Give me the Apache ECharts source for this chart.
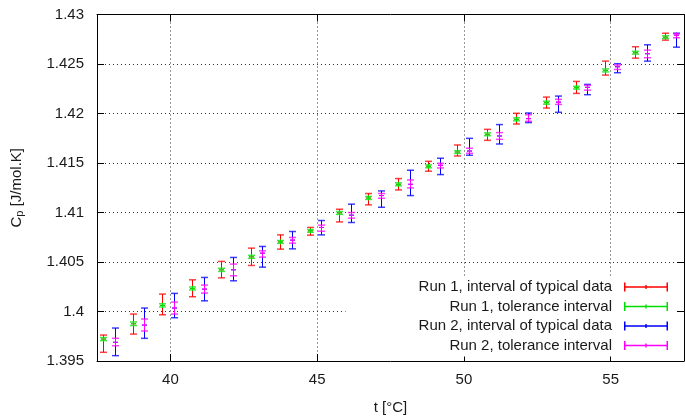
<!DOCTYPE html>
<html>
<head>
<meta charset="utf-8">
<script src="https://cdn.jsdelivr.net/npm/echarts@6/dist/echarts.min.js"></script>
<style>html,body{margin:0;padding:0;background:#fff;}#c{width:685px;height:420px;}</style>
</head>
<body>
<div id="c"></div>
<script>
// ---- data ----
var xTicks = [40, 45, 50, 55];
var seriesNames = ['Run 1, interval of typical data', 'Run 1, tolerance interval', 'Run 2, interval of typical data', 'Run 2, tolerance interval'];

var run1T = [37.70, 38.71, 39.72, 40.73, 41.72, 42.73, 43.73, 44.76, 45.76, 46.75, 47.76, 48.77, 49.78, 50.79, 51.79, 52.81, 53.81, 54.80, 55.83, 56.84];
var run1Y = [1.39722, 1.39876, 1.40062, 1.40233, 1.40421, 1.40552, 1.40703, 1.40814, 1.40996, 1.41147, 1.41285, 1.41467, 1.41611, 1.41790, 1.41941, 1.42109, 1.42261, 1.42435, 1.42614, 1.42771];
var run1TypHigh = [1.39762, 1.39974, 1.40176, 1.40320, 1.40506, 1.40640, 1.40774, 1.40849, 1.41033, 1.41192, 1.41343, 1.41517, 1.41682, 1.41840, 1.42002, 1.42166, 1.42324, 1.42529, 1.42674, 1.42811];
var run1TypLow = [1.39588, 1.39772, 1.39967, 1.40149, 1.40340, 1.40465, 1.40630, 1.40771, 1.40905, 1.41077, 1.41228, 1.41417, 1.41571, 1.41729, 1.41894, 1.42055, 1.42203, 1.42388, 1.42559, 1.42741];
var run1TolHigh = [1.39737, 1.39894, 1.40078, 1.40248, 1.40437, 1.40567, 1.40717, 1.40827, 1.41010, 1.41162, 1.41300, 1.41481, 1.41625, 1.41804, 1.41956, 1.42124, 1.42275, 1.42450, 1.42628, 1.42785];
var run1TolLow = [1.39706, 1.39858, 1.40046, 1.40218, 1.40405, 1.40537, 1.40688, 1.40800, 1.40981, 1.41132, 1.41270, 1.41452, 1.41597, 1.41776, 1.41926, 1.42094, 1.42247, 1.42420, 1.42600, 1.42757];

var run2T = [38.10, 39.11, 40.12, 41.13, 42.12, 43.13, 44.14, 45.14, 46.14, 47.18, 48.18, 49.19, 50.19, 51.21, 52.20, 53.21, 54.21, 55.23, 56.23, 57.24];
var run2Y = [1.39689, 1.39863, 1.40035, 1.40226, 1.40421, 1.40589, 1.40721, 1.40849, 1.40973, 1.41171, 1.41285, 1.41477, 1.41621, 1.41773, 1.41948, 1.42115, 1.42264, 1.42472, 1.42604, 1.42791];
var run2TypHigh = [1.39833, 1.40035, 1.40183, 1.40344, 1.40546, 1.40657, 1.40808, 1.40919, 1.41084, 1.41218, 1.41427, 1.41548, 1.41749, 1.41888, 1.42005, 1.42176, 1.42294, 1.42503, 1.42694, 1.42811];
var run2TypLow = [1.39554, 1.39729, 1.39937, 1.40108, 1.40310, 1.40448, 1.40633, 1.40774, 1.40899, 1.41053, 1.41171, 1.41383, 1.41578, 1.41692, 1.41908, 1.42012, 1.42190, 1.42412, 1.42529, 1.42670];
var run2TolHigh = [1.39729, 1.39924, 1.40095, 1.40267, 1.40479, 1.40613, 1.40748, 1.40872, 1.41000, 1.41192, 1.41329, 1.41497, 1.41649, 1.41807, 1.41988, 1.42143, 1.42284, 1.42489, 1.42640, 1.42805];
var run2TolLow = [1.39654, 1.39803, 1.39974, 1.40186, 1.40361, 1.40549, 1.40690, 1.40811, 1.40943, 1.41144, 1.41248, 1.41450, 1.41598, 1.41739, 1.41921, 1.42092, 1.42236, 1.42445, 1.42563, 1.42765];

// ---- build chart ----
function rows(t, y, lo, hi) {
  return t.map(function (v, i) { return [v, lo[i], hi[i], y[i]]; });
}
function renderErr(params, api) {
  var x = api.value(0), lo = api.value(1), hi = api.value(2), c = api.value(3);
  var pLo = api.coord([x, lo]), pHi = api.coord([x, hi]), pC = api.coord([x, c]);
  var px = Math.round(pLo[0]) + 0.5;
  var w = 3.5, m = 2.5;
  var col = api.visual('color');
  var st = { stroke: col, lineWidth: 1, fill: null };
  var capSt = { stroke: col, lineWidth: 1.5, fill: null, opacity: 0.75 };
  return {
    type: 'group',
    children: [
      { type: 'line', shape: { x1: px, y1: pLo[1], x2: px, y2: pHi[1] }, style: st },
      { type: 'line', shape: { x1: px - w, y1: pLo[1], x2: px + w, y2: pLo[1] }, style: capSt },
      { type: 'line', shape: { x1: px - w, y1: pHi[1], x2: px + w, y2: pHi[1] }, style: capSt },
      { type: 'line', shape: { x1: px - m, y1: pC[1], x2: px + m, y2: pC[1] }, style: st },
      { type: 'line', shape: { x1: px, y1: pC[1] - m, x2: px, y2: pC[1] + m }, style: st }
    ]
  };
}
var colors = ['#ff0000', '#00e000', '#0000ff', '#ff00ff'];
var datasets = [
  rows(run1T, run1Y, run1TypLow, run1TypHigh),
  rows(run1T, run1Y, run1TolLow, run1TolHigh),
  rows(run2T, run2Y, run2TypLow, run2TypHigh),
  rows(run2T, run2Y, run2TolLow, run2TolHigh)
];
var series = datasets.map(function (d, i) {
  return {
    name: seriesNames[i], type: 'custom', renderItem: renderErr,
    itemStyle: { color: colors[i] },
    encode: { x: 0, y: [1, 2, 3] }, data: d, z: 2 + i, clip: false
  };
});
var FONT = 'Liberation Sans, Arial, Helvetica, sans-serif';
var gridLine = { show: true, lineStyle: { color: '#333', width: 1, type: [1, 3] } };
var chart = echarts.init(document.getElementById('c'), null, { renderer: 'canvas' });
chart.setOption({
  animation: false,
  backgroundColor: '#fff',
  textStyle: { fontFamily: FONT },
  grid: { left: 97, top: 14.5, width: 587, height: 347, containLabel: false },
  legend: {
    orient: 'vertical', align: 'right', right: 0, top: 277,
    padding: [2, 17, 3, 73], itemGap: 3.5,
    backgroundColor: '#fff',
    itemWidth: 44, itemHeight: 9,
    icon: 'path://M0,0h1.5v9h-1.5z M0,3.8h44v1.4h-44z M42.5,0h1.5v9h-1.5z M21.3,2.5h1.4v4h-1.4z',
    textStyle: { fontSize: 15, color: '#1a1a1a', fontFamily: FONT, lineHeight: 16, padding: [0, 7, 0, 0] },
    data: seriesNames, selectedMode: false
  },
  xAxis: [{
    type: 'value', min: 37.5, max: 57.5, position: 'bottom',
    name: 't [°C]', nameLocation: 'middle', nameGap: 39,
    nameTextStyle: { fontSize: 15, color: '#1a1a1a', fontFamily: FONT },
    axisLine: { show: true, onZero: false, lineStyle: { color: '#000', width: 1 } },
    axisTick: { show: true, inside: true, length: 7, customValues: xTicks, lineStyle: { color: '#000' } },
    axisLabel: { customValues: xTicks, fontSize: 15, color: '#1a1a1a', margin: 11, fontFamily: FONT },
    splitLine: gridLine
  }, {
    type: 'value', min: 37.5, max: 57.5, position: 'top', z: 10,
    axisLine: { show: true, onZero: false, lineStyle: { color: '#000', width: 1 } },
    axisTick: { show: true, inside: true, length: 7, customValues: xTicks, lineStyle: { color: '#000' } },
    axisLabel: { show: false }, splitLine: { show: false }
  }],
  yAxis: [{
    type: 'value', min: 1.395, max: 1.43, interval: 0.005, position: 'left',
    name: 'C{sub|p} [J/mol.K]', nameLocation: 'middle', nameGap: 72, nameRotate: 90,
    nameTextStyle: { fontSize: 15, color: '#1a1a1a', fontFamily: FONT,
      rich: { sub: { fontSize: 11, verticalAlign: 'bottom', padding: [6, 0, 0, 0], color: '#1a1a1a', fontFamily: FONT } } },
    axisLine: { show: true, onZero: false, lineStyle: { color: '#000', width: 1 } },
    axisTick: { show: true, inside: true, length: 7, lineStyle: { color: '#000' } },
    axisLabel: { fontSize: 15, color: '#1a1a1a', margin: 13, fontFamily: FONT,
      formatter: function (v) { return String(+v.toFixed(4)); } },
    splitLine: gridLine
  }, {
    type: 'value', min: 1.395, max: 1.43, interval: 0.005, position: 'right', z: 10,
    axisLine: { show: true, onZero: false, lineStyle: { color: '#000', width: 1 } },
    axisTick: { show: true, inside: true, length: 7, lineStyle: { color: '#000' } },
    axisLabel: { show: false }, splitLine: { show: false }
  }],
  series: series
});
</script>
</body>
</html>
